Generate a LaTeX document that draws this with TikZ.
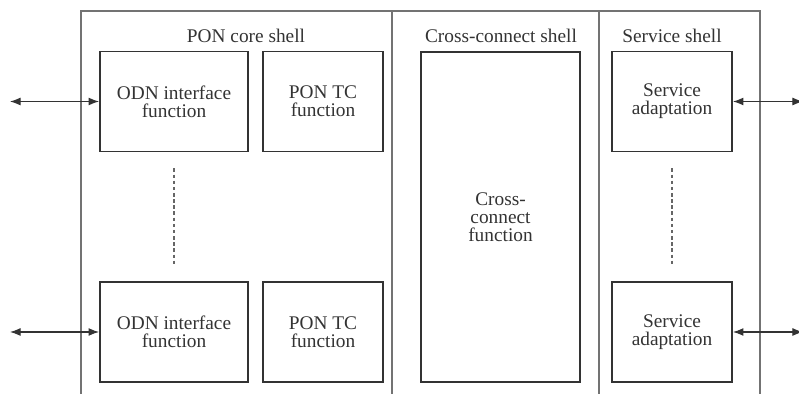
\documentclass[tikz,border=0pt]{standalone}
\usepackage{fontspec}
\setmainfont{Liberation Serif}
\usetikzlibrary{arrows.meta, positioning}

\tikzset{
  funcbox/.style={draw=black!80, line width=1.1pt, align=center, inner sep=2pt,
                  minimum height=2cm, text=black!80,
                  font=\fontsize{11}{10.4}\selectfont},
  shelltitle/.style={text=black!80, font=\fontsize{11}{12}\selectfont},
  shellline/.style={draw=black!55, line width=0.6pt},
}

\begin{document}
\begin{tikzpicture}[x=0.02cm, y=-0.02cm]
\useasboundingbox (0,0) rectangle (799,394);
        % Draw the shells
        \draw[shellline] (81,400) -- (81,11) -- (760,11) -- (760,400);
        \draw[shellline] (392,11) -- (392,400) (599,11) -- (599,400);
        \node[shelltitle] at (246,36)   (pon)   {PON core shell};
        \node[shelltitle] at (501,36)   (cross) {Cross-connect shell};
        \node[shelltitle] at (672,36)   (serv)  {Service shell};
        % Draw the functions
        \node[funcbox, minimum width=2.96cm] at (174,101.5)   (odn1)  {ODN interface\\function};
        \node[funcbox, minimum width=2.4cm]  at (323,101.5)   (tc1)   {PON TC\\function};
        \node[funcbox, minimum width=2.96cm] at (174,332)     (odn2)  {ODN interface\\function};
        \node[funcbox, minimum width=2.4cm]  at (323,332)     (tc2)   {PON TC\\function};
        \node[funcbox, minimum width=3.18cm, minimum height=6.6cm]
                                             at (500.5,217)   (xc)    {Cross-\\connect\\function};
        \node[funcbox, minimum width=2.4cm]  at (672,101.5)   (sa1)   {Service\\adaptation};
        \node[funcbox, minimum width=2.4cm]  at (672,332)     (sa2)   {Service\\adaptation};
        % Outside ends of the connectors
        \coordinate (w1) at (10,101.5);
        \coordinate (w2) at (10,332);
        \coordinate (e1) at (803,101.5);
        \coordinate (e2) at (803,332);
        % Connect the functions with the outside
        \draw[black!80, line width=0.6pt,
              {Latex[length=6pt,width=4.5pt]}-{Latex[length=6pt,width=4.5pt]}]
            (w1) edge (odn1)
            (w2) edge (odn2)
            (e1) edge (sa1)
            (e2) edge (sa2);
        % Dotted continuation
        \draw[black!60, line width=0.6pt, dash pattern=on 2pt off 1.5pt,
              shorten <=0.32cm, shorten >=0.34cm]
            (odn1) edge (odn2)
            (sa1)  edge (sa2);
\end{tikzpicture}
\end{document}
